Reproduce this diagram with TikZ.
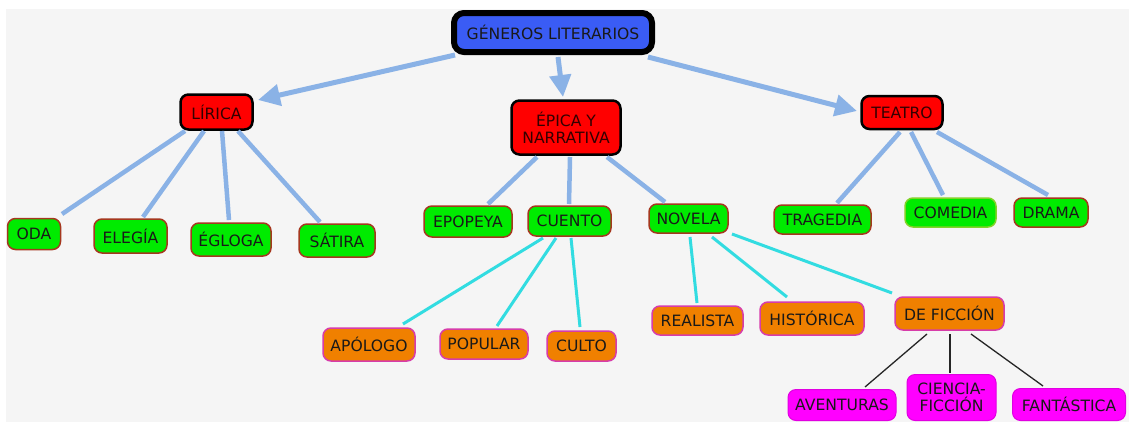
\documentclass[tikz,border=0pt]{standalone}
\usepackage{fontspec}
\setmainfont{DejaVu Sans}
\usetikzlibrary{calc,arrows.meta}
\definecolor{bgc}{RGB}{245,245,245}
\definecolor{topblue}{RGB}{58,92,245}
\definecolor{lred}{RGB}{255,0,0}
\definecolor{lgreen}{RGB}{0,235,0}
\definecolor{gborder}{RGB}{165,55,30}
\definecolor{cborder}{RGB}{130,210,40}
\definecolor{lorange}{RGB}{240,128,0}
\definecolor{oborder}{RGB}{215,60,170}
\definecolor{lmag}{RGB}{255,0,255}
\definecolor{mborder}{RGB}{225,0,225}
\definecolor{conblue}{RGB}{138,178,230}
\definecolor{concyan}{RGB}{50,220,225}
\tikzset{
  box/.style={rounded corners=8pt, inner sep=0pt, align=center, text=black!90,
    font=\fontsize{15.6}{17}\selectfont},
  topbox/.style={box, fill=topblue, draw=black, line width=6pt, rounded corners=10pt},
  redbox/.style={box, fill=lred, draw=black, line width=2.5pt, text=black!80!red},
  greenbox/.style={box, fill=lgreen, draw=gborder, line width=1.5pt},
  orangebox/.style={box, fill=lorange, draw=oborder, line width=1.5pt},
  magbox/.style={box, fill=lmag, draw=mborder, line width=1pt},
  barrow/.style={draw=conblue, line width=5pt, -{Triangle[length=22pt,width=21pt,fill=conblue]}},
  bline/.style={draw=conblue, line width=4.5pt},
  cline/.style={draw=concyan, line width=3pt},
  kline/.style={draw=black!85, line width=1.3pt},
}
\begin{document}
\begin{tikzpicture}[x=1pt,y=-1pt]
\useasboundingbox (0,0) rectangle (1129,423);
\fill[white] (0,0) rectangle (1129,423);
\fill[bgc] (6,9) rectangle (1129,422);

% top
\node[topbox, minimum width=198, minimum height=39] (top) at (553,32.5) {GÉNEROS LITERARIOS};
% level 1
\node[redbox, minimum width=72, minimum height=35] (lir) at (216.5,112) {LÍRICA};
\node[redbox, minimum width=109, minimum height=54] (epi) at (566,127.5) {ÉPICA Y\\NARRATIVA};
\node[redbox, minimum width=81, minimum height=33] (tea) at (902,112.5) {TEATRO};
% level 2
\node[greenbox, minimum width=53, minimum height=31] (oda) at (34,234) {ODA};
\node[greenbox, minimum width=73, minimum height=34] (ele) at (130.5,236) {ELEGÍA};
\node[greenbox, minimum width=80, minimum height=33] (egl) at (231,239.5) {ÉGLOGA};
\node[greenbox, minimum width=76, minimum height=33] (sat) at (337,240.5) {SÁTIRA};
\node[greenbox, minimum width=88, minimum height=31] (epo) at (468,221.5) {EPOPEYA};
\node[greenbox, minimum width=83, minimum height=30] (cue) at (569.5,221) {CUENTO};
\node[greenbox, minimum width=79, minimum height=29] (nov) at (688.5,218.5) {NOVELA};
\node[greenbox, minimum width=97, minimum height=29] (tra) at (822.5,219.5) {TRAGEDIA};
\node[greenbox, draw=cborder, minimum width=91, minimum height=29] (com) at (950.5,212.5) {COMEDIA};
\node[greenbox, minimum width=74, minimum height=29] (dra) at (1051,212.5) {DRAMA};
% level 3
\node[orangebox, minimum width=92, minimum height=33] (apo) at (369,344.5) {APÓLOGO};
\node[orangebox, minimum width=88, minimum height=30] (pop) at (484,344) {POPULAR};
\node[orangebox, minimum width=69, minimum height=30] (cul) at (581.5,346) {CULTO};
\node[orangebox, minimum width=91, minimum height=29] (rea) at (697.5,320.5) {REALISTA};
\node[orangebox, minimum width=104, minimum height=33] (his) at (812,318.5) {HISTÓRICA};
\node[orangebox, minimum width=109, minimum height=33] (fic) at (949.5,313.5) {DE FICCIÓN};
% level 4
\node[magbox, minimum width=108, minimum height=31] (ave) at (842,405) {AVENTURAS};
\node[magbox, minimum width=89, minimum height=46] (cie) at (951.5,397.5) {CIENCIA-\\FICCIÓN};
\node[magbox, minimum width=113, minimum height=32] (fan) at (1069,404.5) {FANTÁSTICA};

% arrows from top
\draw[barrow] ($(top)+(-98,22.5)$) -- ($(lir)+(41.5,-12)$);
\draw[barrow] ($(top)+(5,24.5)$) -- ($(epi)+(-3,-30.5)$);
\draw[barrow] ($(top)+(95,24.5)$) -- ($(tea)+(-45,-1.5)$);

% LIRICA
\draw[bline] ($(lir)+(-31.5,19)$) -- ($(oda)+(28,-20)$);
\draw[bline] ($(lir)+(-12.5,19)$) -- ($(ele)+(12.5,-19)$);
\draw[bline] ($(lir)+(5.5,19)$) -- ($(egl)+(-2,-19.5)$);
\draw[bline] ($(lir)+(21.5,19)$) -- ($(sat)+(-17,-18.5)$);
% EPICA
\draw[bline] ($(epi)+(-29,29.5)$) -- ($(epo)+(20,-17.5)$);
\draw[bline] ($(epi)+(4,29.5)$) -- ($(cue)+(-0.5,-17)$);
\draw[bline] ($(epi)+(41,29.5)$) -- ($(nov)+(-23.5,-16.5)$);
% TEATRO
\draw[bline] ($(tea)+(-2,19.5)$) -- ($(tra)+(14.5,-16.5)$);
\draw[bline] ($(tea)+(9,19.5)$) -- ($(com)+(-7.5,-17.5)$);
\draw[bline] ($(tea)+(35,19.5)$) -- ($(dra)+(-3,-17.5)$);
% CUENTO
\draw[cline] ($(cue)+(-26.5,17)$) -- ($(apo)+(34,-20.5)$);
\draw[cline] ($(cue)+(-13.5,17)$) -- ($(pop)+(13,-18)$);
\draw[cline] ($(cue)+(1.5,17)$) -- ($(cul)+(-1.5,-19)$);
% NOVELA
\draw[cline] ($(nov)+(1.5,18.5)$) -- ($(rea)+(-0.5,-17.5)$);
\draw[cline] ($(nov)+(23.5,18.5)$) -- ($(his)+(-25,-21.5)$);
\draw[cline] ($(nov)+(43.5,15.5)$) -- ($(fic)+(-57.5,-20.5)$);
% DE FICCION
\draw[kline] ($(fic)+(-22.5,20.5)$) -- ($(ave)+(23,-18)$);
\draw[kline] ($(fic)+(0.5,20.5)$) -- ($(cie)+(-1.5,-24.5)$);
\draw[kline] ($(fic)+(21.5,20.5)$) -- ($(fan)+(-26,-18.5)$);
\end{tikzpicture}
\end{document}
